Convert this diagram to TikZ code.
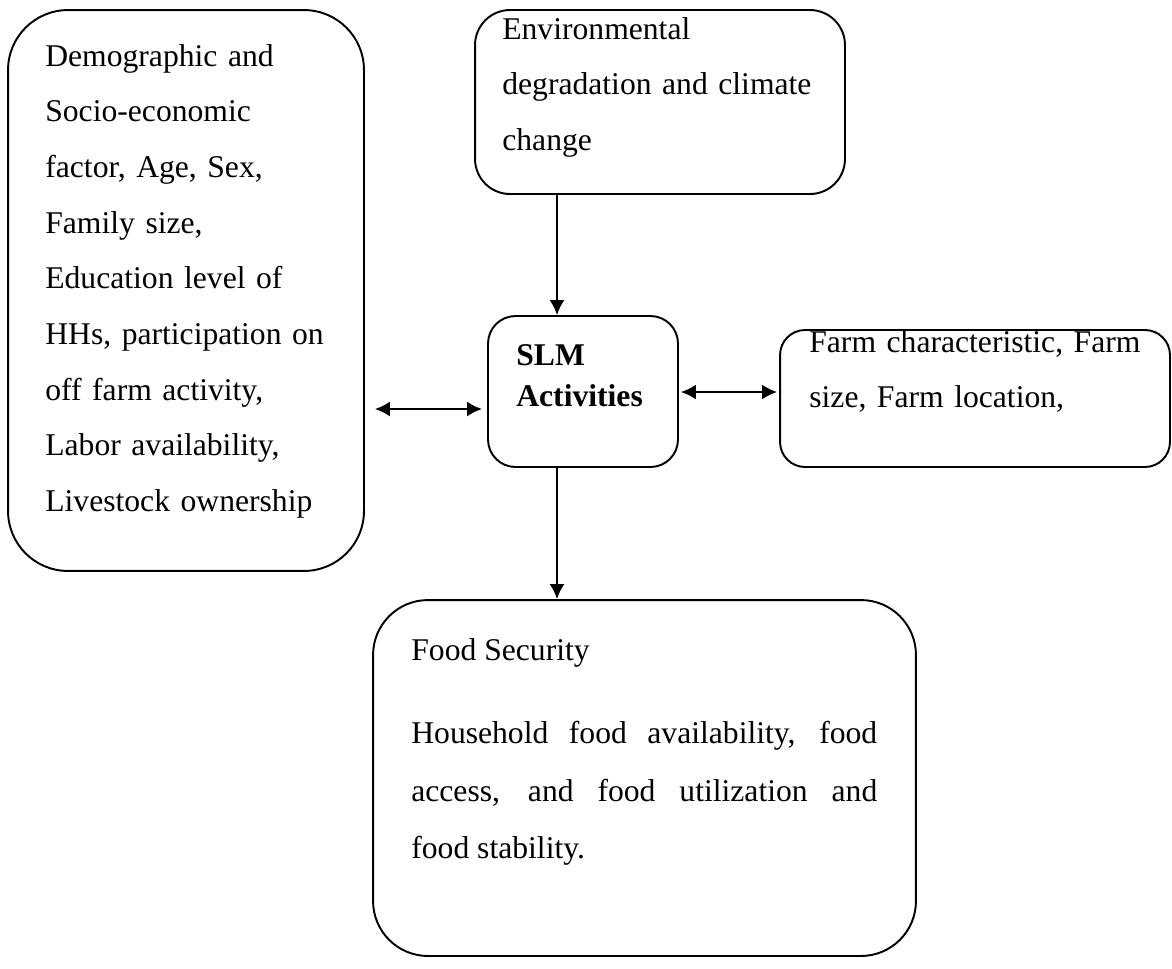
\documentclass[tikz,border=0pt]{standalone}
\usepackage{fontspec}
\setmainfont{Liberation Serif}
\usetikzlibrary{arrows.meta,positioning}

\tikzset{
  box/.style={draw, line width=1.1pt, inner sep=0pt},
  txt/.style={anchor=base west, align=left, inner sep=0pt,
    font=\fontsize{18}{31.7}\selectfont},
  link/.style={line width=1.1pt, -{Latex[length=0.3cm,width=0.3cm]}},
  duplex/.style={line width=1.1pt, {Latex[length=0.3cm,width=0.3cm]}-{Latex[length=0.3cm,width=0.3cm]}}
}

\begin{document}
\begin{tikzpicture}[x=0.02cm, y=-0.02cm]
  % 1. page frame
  \useasboundingbox (0,0) rectangle (1172,968);

  % 2. boxes
  \node[box, rounded corners=1.2cm, minimum width=7.12cm, minimum height=11.22cm]
    (demo) at (186,290.5) {};
  \node[box, rounded corners=0.7cm, minimum width=7.4cm, minimum height=3.68cm]
    (env) at (660,102) {};
  \node[box, rounded corners=0.55cm, minimum width=3.8cm, minimum height=3.02cm]
    (slm) at (583,391.5) {};
  \node[box, rounded corners=0.5cm, minimum width=7.8cm, minimum height=2.74cm]
    (farm) at (975,398.5) {};
  \node[box, rounded corners=1.1cm, minimum width=10.86cm, minimum height=7.12cm]
    (food) at (644.5,778) {};

  % 3. texts (top aligned, as in the original)
  \node[txt, text width=6.3cm] (demotxt) at (45,66)
    {Demographic and\\ Socio-economic\\ factor, Age, Sex,\\ Family size,\\
     Education level of\\ HHs, participation on\\ off farm activity,\\
     Labor availability,\\ Livestock ownership};
  \node[txt, text width=6.4cm] (envtxt) at (502,39)
    {Environmental\\ degradation and climate\\ change};
  \node[txt, text width=3.2cm, font=\fontsize{18}{23.8}\selectfont\bfseries]
    (slmtxt) at (516,365) {SLM\\ Activities};
  \node[txt, text width=7.2cm] (farmtxt) at (809,352)
    {Farm characteristic, Farm\\ size, Farm location,};
  \node[txt, text width=9.32cm, align=justify,
    font=\fontsize{18}{32.6}\selectfont] (foodtxt) at (411,660)
    {Food Security\\[0.53cm]
     Household food availability, food\linebreak
     access, and food utilization and\linebreak
     food stability.};

  % 4. connectors
  \coordinate (axis) at (557,0);
  \coordinate (lrow) at (0,409);
  \coordinate (rrow) at (0,392);
  \draw[link] (env.south -| axis) -- (slm.north -| axis);
  \draw[link] (slm.south -| axis) -- (food.north -| axis);
  \draw[duplex, shorten <=10*0.02cm, shorten >=5*0.02cm]
    (demo.east |- lrow) -- (slm.west |- lrow);
  \draw[duplex, shorten <=2*0.02cm, shorten >=2*0.02cm]
    (slm.east |- rrow) -- (farm.west |- rrow);
\end{tikzpicture}
\end{document}
